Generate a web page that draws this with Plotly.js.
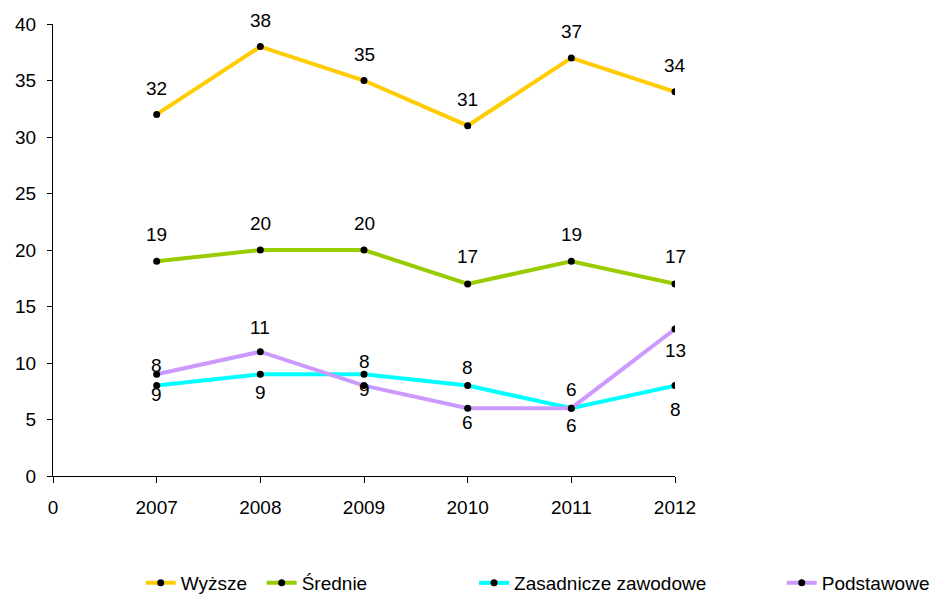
<!DOCTYPE html>
<html>
<head>
<meta charset="utf-8">
<script src="https://cdn.plot.ly/plotly-3.0.1.min.js"></script>
<style>html,body{margin:0;padding:0;background:#fff;}#chart{width:943px;height:595px;}</style>
</head>
<body>
<div id="chart"></div>
<script>
// ---- data ----
const categories = ["2007", "2008", "2009", "2010", "2011", "2012"];
const seriesNames = ["Wyższe", "Średnie", "Zasadnicze zawodowe", "Podstawowe"];
const wyzsze = [32, 38, 35, 31, 37, 34];
const srednie = [19, 20, 20, 17, 19, 17];
const zasadnicze = [8, 9, 9, 8, 6, 8];
const podstawowe = [9, 11, 8, 6, 6, 13];
const xTickLabels = ["0"].concat(categories);

// ---- styles ----
const colors = ["#FFCC00", "#99CC00", "#00FFFF", "#CC99FF"];
// label vertical offsets (pixels) per series, per point (positive = above)
const labelShifts = [
  [26, 26, 26, 26, 26, 26],
  [27, 27, 27, 27, 27, 27],
  [20, -18, -15, 18, 19, -24],
  [-20, 24, 24, -14, -17, -21]
];
const FONT = "Arial, 'Liberation Sans', sans-serif";
const FS = 19;
const allSeries = [wyzsze, srednie, zasadnicze, podstawowe];
const xs = categories.map((c, i) => i + 1);
const legendX = [0.1492, 0.2775, 0.5027, 0.829];
const legendKeys = ["legend", "legend2", "legend3", "legend4"];

const traces = allSeries.map((vals, s) => ({
  type: "scatter",
  mode: "lines+markers",
  name: seriesNames[s],
  x: xs,
  y: vals,
  line: {color: colors[s], width: 4},
  marker: {color: "#000", size: 7},
  legend: legendKeys[s],
  hoverinfo: "x+y"
}));

const annotations = [];
allSeries.forEach((vals, s) => {
  vals.forEach((v, i) => {
    annotations.push({
      x: xs[i], y: v, xref: "x", yref: "y",
      text: String(v), showarrow: false,
      yshift: labelShifts[s][i],
      font: {family: FONT, size: FS, color: "#000"}
    });
  });
});

const layout = {
  width: 943, height: 595,
  margin: {l: 53, r: 268, t: 24, b: 119},
  paper_bgcolor: "#fff", plot_bgcolor: "#fff",
  font: {family: FONT, size: FS, color: "#000"},
  showlegend: true,
  xaxis: {
    range: [0, 6], tickvals: [0, 1, 2, 3, 4, 5, 6], ticktext: xTickLabels,
    showgrid: false, zeroline: false, showline: true, linecolor: "#000", linewidth: 1,
    ticks: "outside", ticklen: 6, tickcolor: "#000", ticklabelstandoff: 8,
    tickfont: {family: FONT, size: FS}, automargin: false
  },
  yaxis: {
    range: [0, 40], dtick: 5, tick0: 0,
    showgrid: false, zeroline: false, showline: true, linecolor: "#000", linewidth: 1,
    ticks: "outside", ticklen: 5, tickcolor: "#000", ticklabelstandoff: 7,
    tickfont: {family: FONT, size: FS}, automargin: false
  },
  annotations: annotations
};
legendKeys.forEach((k, s) => {
  layout[k] = {
    orientation: "h", xref: "container", yref: "container",
    x: legendX[s], xanchor: "left", y: 1 - 583 / 595, yanchor: "middle",
    font: {family: FONT, size: FS}, bgcolor: "rgba(0,0,0,0)", borderwidth: 0,
    itemwidth: 30, tracegroupgap: 0
  };
});

Plotly.newPlot("chart", traces, layout, {displayModeBar: false, staticPlot: true});
</script>
</body>
</html>
